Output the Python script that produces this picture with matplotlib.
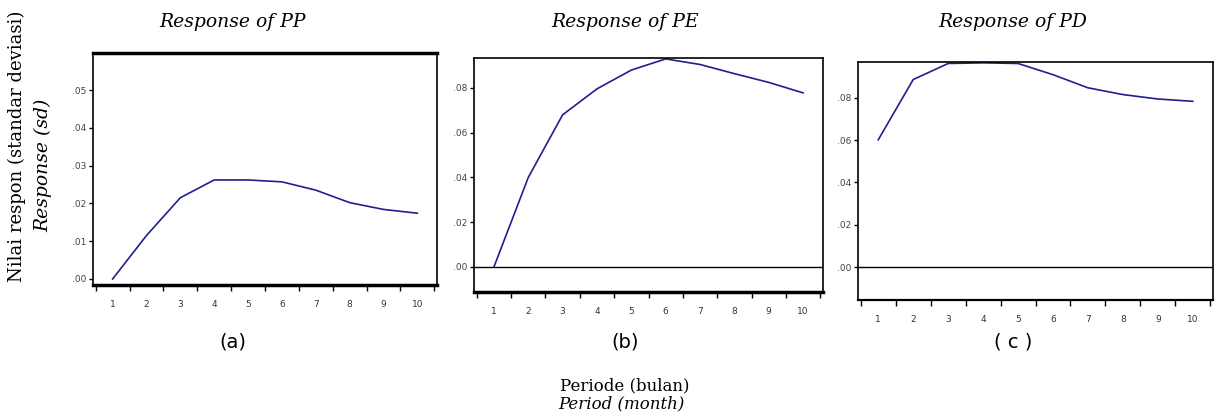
import matplotlib
matplotlib.use("Agg")
import matplotlib.pyplot as plt
import numpy as np

periods = [1, 2, 3, 4, 5, 6, 7, 8, 9, 10]
resp_pp = [0.0000, 0.0115, 0.0215, 0.0262, 0.0262, 0.0257, 0.0235, 0.0202, 0.0184, 0.0174]
resp_pe = [0.0000, 0.0400, 0.0680, 0.0796, 0.0880, 0.0930, 0.0905, 0.0864, 0.0825, 0.0778]
resp_pd = [0.0602, 0.0887, 0.0963, 0.0966, 0.0963, 0.0910, 0.0848, 0.0816, 0.0795, 0.0784]

titles = ["Response of PP", "Response of PE", "Response of PD"]
panel_labels = ["(a)", "(b)", "( c )"]
yticks_a = [0.00, 0.01, 0.02, 0.03, 0.04, 0.05]
yticks_bc = [0.00, 0.02, 0.04, 0.06, 0.08]

W, H = 1215, 416
fig = plt.figure(figsize=(W / 100, H / 100), dpi=100)

def rect(l, r, t, b):
    return [l / W, 1 - b / H, (r - l) / W, (b - t) / H]

specs = [
    dict(r=rect(93, 437, 53, 285), data=resp_pp, yt=yticks_a, ylim=(-0.0016, 0.0598), zero=False,
         title_x=233, lw_top=2.5, lw_bot=2.5),
    dict(r=rect(474, 823, 58, 292), data=resp_pe, yt=yticks_bc, ylim=(-0.0112, 0.0934), zero=True,
         title_x=625, lw_top=1.2, lw_bot=2.5),
    dict(r=rect(858, 1213, 62, 300), data=resp_pd, yt=yticks_bc, ylim=(-0.0156, 0.097), zero=True,
         title_x=1013, lw_top=1.2, lw_bot=1.6),
]

line_color = "#1f1f8f"
for i, s in enumerate(specs):
    ax = fig.add_axes(s["r"])
    ax.plot(periods, s["data"], color=line_color, lw=1.2, clip_on=True)
    if s["zero"]:
        ax.axhline(0, color="black", lw=1.0)
    ax.set_xlim(0.42, 10.58)
    ax.set_ylim(*s["ylim"])
    ax.set_yticks(s["yt"])
    ax.set_yticklabels([("%.2f" % v)[1:] for v in s["yt"]], fontsize=6.5, color="#444444")
    ax.set_xticks(np.arange(0.5, 11.0, 1.0))
    ax.set_xticklabels([])
    ax.set_xticks(periods, minor=True)
    ax.set_xticklabels([str(p) for p in periods], minor=True, fontsize=6.5, color="#333333")
    ax.tick_params(axis="x", which="major", direction="out", length=4, width=1.0)
    ax.tick_params(axis="x", which="minor", length=0, pad=11)
    ax.tick_params(axis="y", direction="out", length=3, width=1.0, pad=2)
    for sp in ax.spines.values():
        sp.set_linewidth(1.2)
    ax.spines["bottom"].set_linewidth(s["lw_bot"])
    ax.spines["top"].set_linewidth(s["lw_top"])
    fig.text(s["title_x"] / W, 1 - 22 / H, titles[i], ha="center", va="center",
             fontsize=13.5, style="italic", family="DejaVu Serif")
    fig.text(s["title_x"] / W, 1 - 342 / H, panel_labels[i], ha="center", va="center",
             fontsize=14, family="DejaVu Sans")

fig.text(17 / W, 1 - 146 / H, "Nilai respon (standar deviasi)", rotation=90, ha="center",
         va="center", fontsize=13, family="DejaVu Serif")
fig.text(43 / W, 1 - 165 / H, "Response (sd)", rotation=90, ha="center", va="center",
         fontsize=13.5, style="italic", family="DejaVu Serif")
fig.text(625 / W, 1 - 386 / H, "Periode (bulan)", ha="center", va="center", fontsize=12,
         family="DejaVu Serif")
fig.text(621 / W, 1 - 404 / H, "Period (month)", ha="center", va="center", fontsize=12,
         style="italic", family="DejaVu Serif")

fig.savefig("out.png", dpi=100)
